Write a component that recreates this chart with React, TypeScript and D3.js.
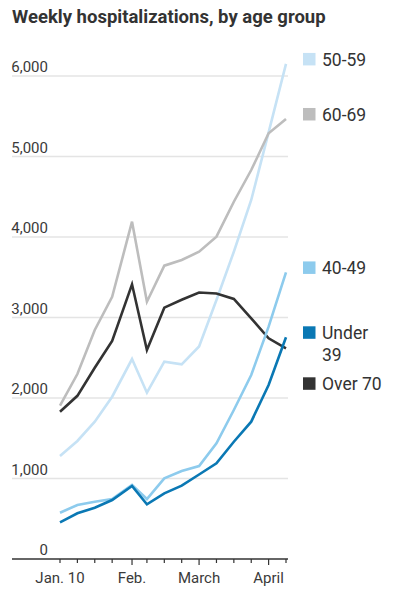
import * as d3 from "d3";

// week dates (the 5th reading sits a day late in the source)
const weeks = [
  "2021-01-10", "2021-01-17", "2021-01-24", "2021-01-31",
  "2021-02-08", "2021-02-14", "2021-02-21", "2021-02-28",
  "2021-03-07", "2021-03-14", "2021-03-21", "2021-03-28",
  "2021-04-04", "2021-04-11",
];

const under39 = [456, 568, 637, 733, 907, 679, 816, 911, 1050, 1189, 1457, 1706, 2161, 2754];
const age40to49 = [575, 671, 712, 745, 919, 745, 1002, 1093, 1155, 1437, 1851, 2286, 2886, 3560];
const age50to59 = [1280, 1466, 1706, 2016, 2484, 2066, 2451, 2418, 2640, 3217, 3817, 4460, 5300, 6150];
const age60to69 = [1905, 2298, 2845, 3258, 4190, 3196, 3644, 3714, 3817, 4004, 4438, 4832, 5288, 5466];
const over70 = [1830, 2027, 2376, 2710, 3412, 2596, 3122, 3220, 3310, 3298, 3230, 2990, 2742, 2617];

const yTicks = [0, 1000, 2000, 3000, 4000, 5000, 6000];
const monthLabels = [
  { date: "2021-01-10", text: "Jan. 10" },
  { date: "2021-02-08", text: "Feb." },
  { date: "2021-03-07", text: "March" },
  { date: "2021-04-04", text: "April" },
];

// drawn back to front
const series = [
  { name: ["50-59"], values: age50to59, color: "#c6e2f5" },
  { name: ["60-69"], values: age60to69, color: "#bdbdbd" },
  { name: ["Over 70"], values: over70, color: "#333333" },
  { name: ["40-49"], values: age40to49, color: "#8dcbed" },
  { name: ["Under", "39"], values: under39, color: "#0a78b4" },
];

const width = 394;
const height = 599;
const font = "Roboto, 'Noto Sans', sans-serif";

export default function App() {
  const parse = d3.utcParse("%Y-%m-%d");
  const dates = weeks.map((d) => parse(d) as Date);

  const x = d3
    .scaleUtc()
    .domain([dates[0], dates[dates.length - 1]])
    .range([60, 286]);
  const y = d3.scaleLinear().domain([0, 6000]).range([559, 76]);

  const gridLeft = 12;
  const gridRight = 288;

  const line = d3
    .line<number>()
    .x((_, i) => x(dates[i]))
    .y((d) => y(d));

  const majorDates = new Set(monthLabels.slice(1).map((m) => m.date));

  // legend next to line ends, pushed down when they collide
  const legend = series
    .map((s) => ({ ...s, top: y(s.values[s.values.length - 1]) - 11 }))
    .sort((a, b) => a.top - b.top);
  for (let i = 1; i < legend.length; i++) {
    const prev = legend[i - 1];
    const minTop = prev.top + prev.name.length * 22 + 7;
    if (legend[i].top < minTop) legend[i].top = minTop;
  }

  return (
    <svg
      width={width}
      height={height}
      style={{ position: "absolute", left: 0, top: 0, background: "#fff" }}
      fontFamily={font}
    >
      <text x={12} y={23} fontSize={18.5} fontWeight={700} fill="#333">
        Weekly hospitalizations, by age group
      </text>

      {/* grid + y labels */}
      {yTicks.map((t) => (
        <g key={t}>
          {t > 0 && (
            <line
              x1={gridLeft}
              x2={gridRight}
              y1={y(t)}
              y2={y(t)}
              stroke="#e4e4e4"
              strokeWidth={1.3}
            />
          )}
          <text
            x={48}
            y={y(t) - 4}
            textAnchor="end"
            fontSize={15}
            fill="#3a3a3a"
          >
            {d3.format(",")(t)}
          </text>
        </g>
      ))}

      {/* x axis */}
      <line x1={gridLeft} x2={gridRight} y1={y(0)} y2={y(0)} stroke="#333" strokeWidth={1.3} />
      {weeks.map((w, i) => (
        <line
          key={w}
          x1={x(dates[i])}
          x2={x(dates[i])}
          y1={y(0)}
          y2={y(0) + (majorDates.has(w) ? 6 : 4)}
          stroke="#333"
          strokeWidth={1.2}
        />
      ))}
      {monthLabels.map((m) => (
        <text
          key={m.text}
          x={x(parse(m.date) as Date)}
          y={583}
          textAnchor="middle"
          fontSize={15}
          fill="#3a3a3a"
        >
          {m.text}
        </text>
      ))}

      {/* lines */}
      {series.map((s) => (
        <path
          key={s.name.join(" ")}
          d={line(s.values) || ""}
          fill="none"
          stroke={s.color}
          strokeWidth={2.6}
          strokeLinejoin="miter"
        />
      ))}

      {/* legend */}
      {legend.map((s) => (
        <g key={s.name.join(" ")} transform={`translate(303,${s.top})`}>
          <rect width={12.5} height={12.5} fill={s.color} />
          {s.name.map((ln, j) => (
            <text key={ln} x={19} y={12.8 + j * 22} fontSize={17.5} fill="#333">
              {ln}
            </text>
          ))}
        </g>
      ))}
    </svg>
  );
}
